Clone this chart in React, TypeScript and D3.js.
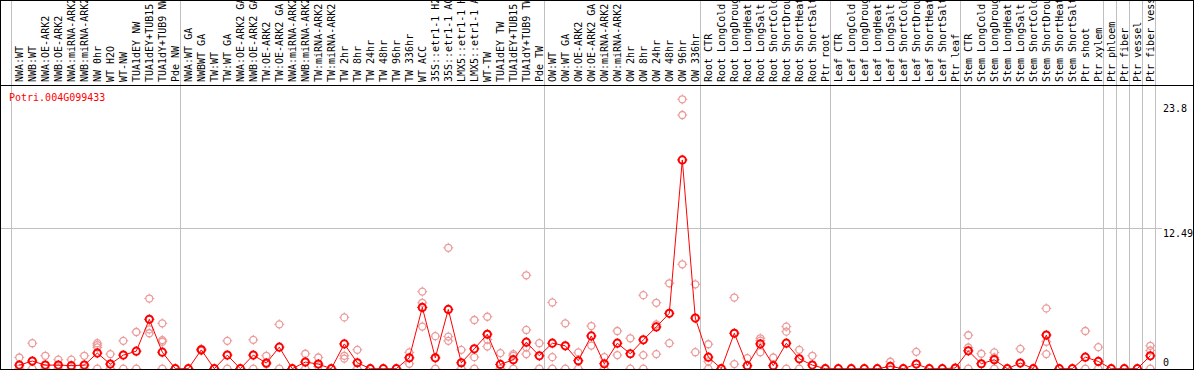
import React from "react";
import * as d3 from "d3";

const title = "Potri.004G099433";

const labels = [
  "NWA:WT", "NWB:WT", "NWA:OE-ARK2", "NWB:OE-ARK2", "NWA:miRNA-ARK2", "NWB:miRNA-ARK2",
  "NW 0hr", "WT H2O", "WT-NW", "TUA1dEY NW", "TUA1dEY+TUB15 NW", "TUA1dY+TUB9 NW", "Pde NW",
  "NWA:WT GA", "NWBWT GA", "TW:WT", "TW:WT GA", "NWA:OE-ARK2 GA", "NWB:OE-ARK2 GA",
  "TW:OE-ARK2", "TW:OE-ARK2 GA", "NWA:miRNA-ARK2", "NWB:miRNA-ARK2", "TW:miRNA-ARK2",
  "TW:miRNA-ARK2", "TW 2hr", "TW 8hr", "TW 24hr", "TW 48hr", "TW 96hr", "TW 336hr", "WT ACC",
  "35S::etr1-1 H2O", "35S::etr1-1 ACC", "LMX5::etr1-1 H2O", "LMX5::etr1-1 ACC", "WT-TW",
  "TUA1dEY TW", "TUA1dEY+TUB15 TW", "TUA1dY+TUB9 TW", "Pde TW",
  "OW:WT", "OW:WT GA", "OW:OE-ARK2", "OW:OE-ARK2 GA", "OW:miRNA-ARK2", "OW:miRNA-ARK2",
  "OW 2hr", "OW 8hr", "OW 24hr", "OW 48hr", "OW 96hr", "OW 336hr",
  "Root CTR", "Root LongCold", "Root LongDrought", "Root LongHeat", "Root LongSalt",
  "Root ShortCold", "Root ShortDrought", "Root ShortHeat", "Root ShortSalt", "Ptr root",
  "Leaf CTR", "Leaf LongCold", "Leaf LongDrought", "Leaf LongHeat", "Leaf LongSalt",
  "Leaf ShortCold", "Leaf ShortDrought", "Leaf ShortHeat", "Leaf ShortSalt", "Ptr leaf",
  "Stem CTR", "Stem LongCold", "Stem LongDrought", "Stem LongHeat", "Stem LongSalt",
  "Stem ShortCold", "Stem ShortDrought", "Stem ShortHeat", "Stem ShortSalt", "Ptr shoot",
  "Ptr xylem", "Ptr phloem", "Ptr fiber", "Ptr vessel", "Ptr fiber vessel",
];

// mean expression per sample
const means = [
  0.32, 0.68, 0.32, 0.32, 0.27, 0.32, 1.39, 0.41, 1.21, 1.56, 4.4, 1.47, 0,
  0, 1.68, 0, 1.21, 0, 1.21, 0.5, 1.92, 0, 0.59, 0.41, 0, 2.21, 0.53, 0, 0, 0, 0.97,
  5.46, 0.97, 5.28, 0.53, 1.77, 3.07, 0.38, 0.8, 2.36, 1.15,
  2.27, 2.04, 0.71, 2.92, 0.44, 2.27, 1.33, 2.57, 3.72, 4.93, 18.6, 4.51,
  1.03, 0, 3.16, 0.27, 2.21, 0.27, 2.27, 0.88, 0.32, 0,
  0, 0, 0, 0, 0.2, 0, 0.41, 0, 0, 0.06,
  1.59, 0.44, 0.8, 0, 0.5, 0, 3.0, 0, 0, 1.03, 0.65,
  0, 0, 0, 1.15,
];

// individual replicates
const replicates = [
  [1.0, 0], [2.27, 0], [1.15, 0], [0.8, 0], [0.8, 0], [1.15, 0], [2.27, 2.1, 1.9, 0],
  [1.3, 0], [2.48, 0], [3.27, 0], [6.25, 3.5, 3.16], [4.04, 2.55, 2.4, 0], [0],
  [0], [1.77, 1.6], [0], [2.48, 0], [0], [2.57, 0], [1.15, 0.4], [3.95, 0], [0],
  [1.33, 0], [1.0, 0.2], [0], [4.57, 1.15, 0.9], [1.68, 0], [0], [0], [0], [1.45, 0.44],
  [6.87, 5.87, 3.75], [2.9, 0], [10.77, 2.86, 2.48], [1.68, 0], [4.34, 1.03, 0],
  [4.63, 2.6, 1.98], [1.39, 0], [1.3, 1.15, 0], [8.32, 3.45, 1.9, 1.3], [2.27, 0],
  [5.9, 1.03, 0], [4.04, 0], [1.45, 0], [3.8, 2.06], [1.03, 0], [3.36, 1.21], [2.71, 0],
  [6.55, 1.21, 0], [5.87, 3.95, 1.3], [7.61, 2.27], [24.0, 22.6, 9.3], [7.52, 1.47],
  [2.18, 0.65, 0], [0], [6.34, 0.41], [0.94], [2.71, 2.5, 1.47], [1.0], [3.75, 3.3, 0],
  [1.68, 0], [1.15], [0],
  [0], [0], [0], [0], [0.62], [0], [1.5], [0], [0], [0],
  [2.98, 1.89, 0], [1.33], [1.45, 1.0, 0], [0], [1.77], [0], [5.37, 2.4, 1.3], [0], [0],
  [3.36, 0], [1.92, 0], [0], [0], [0], [2.04, 1.62, 0],
];

// column indices where a group divider is drawn
const groupBreaks = [0, 13, 41, 53, 63, 73, 84, 85, 86, 87, 88];
const yTicks = [23.8, 12.49, 0];

const W = 1194;
const H = 370;
const font = "DejaVu Sans Mono, monospace";
const red = "#ff0000";
const pink = "#ec9a9a";
const gray = "#c0c0c0";

const Marker = ({ cx, cy, r, color, sw }) => (
  <g transform={`translate(${cx},${cy})`} stroke={color} strokeWidth={sw} fill="none">
    <circle r={r} />
    {[0, 90, 180, 270].map((a) => (
      <line key={a} x1={0} y1={-r} x2={0} y2={-r - 1.5} transform={`rotate(${a})`} strokeWidth={1} />
    ))}
  </g>
);

export default function App() {
  const n = labels.length;
  const x = d3.scaleBand<number>().domain(d3.range(n)).range([11, 11 + 13 * n]).padding(0);
  const y = d3.scaleLinear().domain([0, 12.49]).range([368.7, 228.5]);
  const cx = (i: number) => (x(i) as number) + 8.3;
  const edge = (k: number) => Math.round(11 + x.step() * k) + 0.5;

  const line = d3
    .line<number>()
    .x((d, i) => cx(i))
    .y((d) => y(d));

  const tickDy = { 23.8: 10, 12.49: 8, 0: -3 };

  return (
    <div>
      <style>{`body{margin:0}`}</style>
      <svg width={W} height={H} style={{ display: "block" }}>
        <rect width={W} height={H} fill="#fff" />
        <line x1={1} x2={1162} y1={Math.floor(y(12.49)) + 0.5} y2={Math.floor(y(12.49)) + 0.5} stroke={gray} />
        {groupBreaks.map((k) => (
          <line key={k} x1={edge(k)} x2={edge(k)} y1={0} y2={369} stroke={gray} />
        ))}

        {labels.map((l, i) => (
          <text
            key={i}
            transform={`translate(${(x(i) as number) + 12.3},82) rotate(-90)`}
            fontFamily={font}
            fontSize={10}
            fill="#000"
          >
            {l}
          </text>
        ))}

        <text x={9} y={101} fontFamily={font} fontSize={10} fill={red}>
          {title}
        </text>

        {replicates.map((reps, i) =>
          reps.map((v, j) => <Marker key={`${i}-${j}`} cx={cx(i)} cy={y(v)} r={3.5} color={pink} sw={1.3} />)
        )}

        <path d={line(means) || ""} fill="none" stroke={red} strokeWidth={1} />
        {means.map((v, i) => (
          <Marker key={i} cx={cx(i)} cy={y(v)} r={3.6} color={red} sw={2} />
        ))}

        {yTicks.map((t) => (
          <text key={t} x={1163} y={y(t) + tickDy[t]} fontFamily={font} fontSize={10} fill="#000">
            {t}
          </text>
        ))}

        <line x1={0} x2={W} y1={85.5} y2={85.5} stroke="#000" />
        <rect x={0.5} y={0.5} width={W - 1} height={369} fill="none" stroke="#000" />
      </svg>
    </div>
  );
}
